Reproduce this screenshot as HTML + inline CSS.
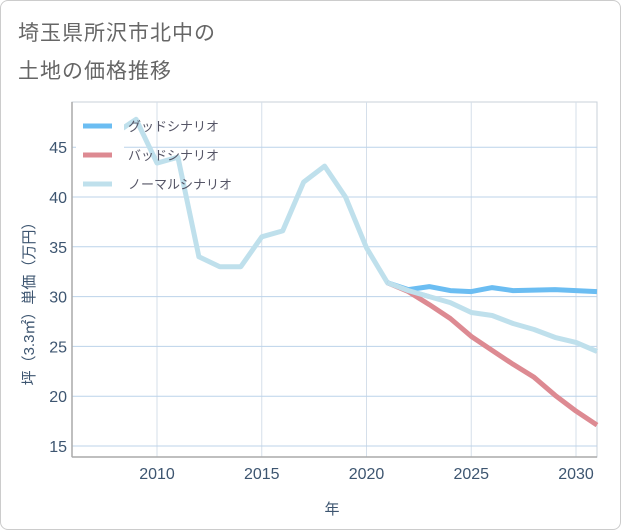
<!DOCTYPE html>
<html><head><meta charset="utf-8">
<style>
body{margin:0;background:#fff;font-family:"Liberation Sans","Noto Sans CJK JP",sans-serif;}
#wrap{position:relative;width:619px;height:528px;border:1px solid #ccc;border-radius:8px;overflow:hidden;background:#fff}
.t{position:absolute;left:17px;font-size:21px;color:#666;letter-spacing:1px}
</style></head><body>
<div id="wrap">
<div class="t" style="top:16px">埼玉県所沢市北中の</div>
<div class="t" style="top:54px">土地の価格推移</div>
<svg id="c" width="621" height="530" style="position:absolute;left:-1px;top:-1px"></svg>
</div>
<script>
const normalYears=[2008,2009,2010,2011,2012,2013,2014,2015,2016,2017,2018,2019,2020,2021,2022,2023,2024,2025,2026,2027,2028,2029,2030,2031];
const normalVals=[46.4,47.8,43.4,44,34,33,33,36,36.6,41.5,43.1,40,34.9,31.4,30.6,30,29.4,28.4,28.1,27.3,26.7,25.9,25.4,24.5];
const fcYears=[2021,2022,2023,2024,2025,2026,2027,2028,2029,2030,2031];
const goodVals=[31.4,30.7,31.0,30.6,30.5,30.9,30.6,30.65,30.7,30.6,30.5];
const badVals=[31.4,30.5,29.2,27.8,26.0,24.6,23.2,21.9,20.1,18.5,17.1];
const xTicks=[2010,2015,2020,2025,2030];
const yTicks=[15,20,25,30,35,40,45];
const L=72,R=597,T=102,B=457;
const TXT='#3d5570';
const X=v=>157+(v-2010)*20.95;
const Y=v=>446-(v-15)*9.96;
const svg=document.getElementById('c'),NS='http://www.w3.org/2000/svg';
function mk(tag,at,parent){const e=document.createElementNS(NS,tag);for(const k in at)e.setAttribute(k,at[k]);(parent||svg).appendChild(e);return e;}
let e;
e=mk('rect',{x:L,y:T,width:R-L,height:B-T,fill:'#fff',stroke:'#c8d0da',"stroke-width":1});


xTicks.forEach(t=>{
 e=mk('line',{x1:X(t),x2:X(t),y1:T,y2:B,stroke:'#d5dfea'});
 
 
 e=mk('text',{x:X(t),y:479,"text-anchor":"middle","font-size":16,fill:TXT});e.textContent=t;
 
 
});
yTicks.forEach(t=>{
 e=mk('line',{x1:L,x2:R,y1:Y(t),y2:Y(t),stroke:'#bcd3ea'});
 
 
 e=mk('text',{x:67,y:Y(t)+6,"text-anchor":"end","font-size":16,fill:TXT});e.textContent=t;
 
 
});
e=mk('line',{x1:L,x2:L,y1:T,y2:B,stroke:'#aaa',"stroke-width":1.5});


e=mk('line',{x1:L,x2:R,y1:B,y2:B,stroke:'#aaa',"stroke-width":1.5});


e=mk('text',{x:332,y:514,"text-anchor":"middle","font-size":15,fill:TXT});e.textContent='年';


e=mk('text',{x:0,y:0,transform:'translate(34,300) rotate(-90)',"text-anchor":"middle","font-size":15,fill:TXT});e.textContent='坪（3.3㎡）単価（万円）';


function line(xs,vs,color,name){
 const p=xs.map((x,i)=>(i?'L':'M')+X(x).toFixed(1)+','+Y(vs[i]).toFixed(1)).join('');
 const el=mk('path',{d:p,fill:'none',stroke:color,"stroke-width":5,"stroke-linejoin":"round"});
 
 
}
line(normalYears,normalVals,'#bfe0ec','normal-scenario-line');
line(fcYears,badVals,'#dd8a92','bad-scenario-line');
line(fcYears,goodVals,'#6bbdf2','good-scenario-line');
line(fcYears.slice(0,3),normalVals.slice(13,16),'#bfe0ec','normal-scenario-overlap');
e=mk('rect',{x:76,y:108,width:48,height:88,fill:'#fff'});


const leg=[['グッドシナリオ','#6bbdf2'],['バッドシナリオ','#dd8a92'],['ノーマルシナリオ','#bfe0ec']];
leg.forEach((l,i)=>{
 const y=126+i*29;
 e=mk('line',{x1:83,x2:112,y1:y,y2:y,stroke:l[1],"stroke-width":5});
 
 
 e=mk('text',{x:128,y:y+5,"font-size":13,fill:'#556'});e.textContent=l[0];
 
 
});
</script>
</body></html>
